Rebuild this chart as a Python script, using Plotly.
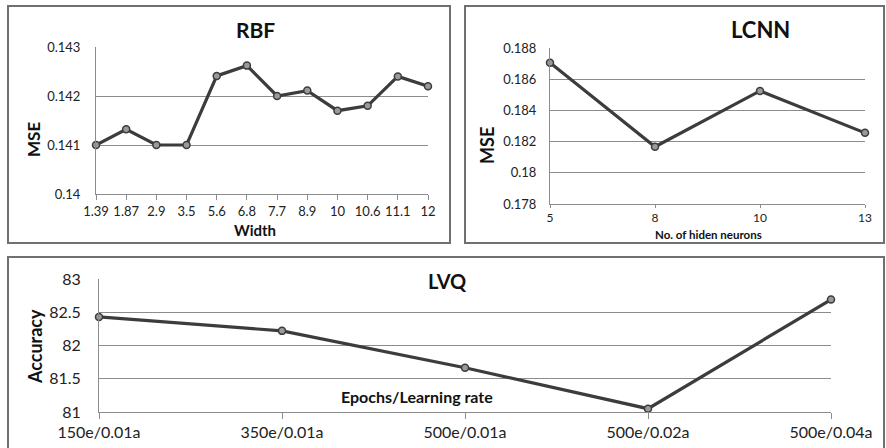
import plotly.graph_objects as go

W, H = 886, 448

# ---------------- data ----------------
rbf_width = ["1.39", "1.87", "2.9", "3.5", "5.6", "6.8", "7.7", "8.9", "10", "10.6", "11.1", "12"]
rbf_mse = [0.1410, 0.14132, 0.1410, 0.1410, 0.14241, 0.14262, 0.1420, 0.14211, 0.1417, 0.1418, 0.1424, 0.1422]
rbf_yticks = [0.14, 0.141, 0.142, 0.143]

lcnn_neurons = ["5", "8", "10", "13"]
lcnn_mse = [0.18706, 0.18167, 0.18525, 0.18256]
lcnn_yticks = [0.178, 0.18, 0.182, 0.184, 0.186, 0.188]

lvq_setting = ["150e/0.01a", "350e/0.01a", "500e/0.01a", "500e/0.02a", "500e/0.04a"]
lvq_acc = [82.43, 82.22, 81.665, 81.05, 82.69]
lvq_yticks = [81, 81.5, 82, 82.5, 83]

FONT = "Lato, 'Open Sans', sans-serif"
LINE_C = "#3c3c3c"
GRID_C = "#8c8c8c"


def px(x):
    return x / W


def py(y):
    return 1 - y / H


fig = go.Figure()

panels = [
    dict(xa="x", ya="y", cats=rbf_width, vals=rbf_mse,
         xd=[96, 428], yd=[194, 47], yr=[0.14, 0.143], yt=rbf_yticks, ytxt=["0.14", "0.141", "0.142", "0.143"],
         tfs=13, yfs=13, tl=5, ysd=12),
    dict(xa="x2", ya="y2", cats=lcnn_neurons, vals=lcnn_mse,
         xd=[550, 865], yd=[204, 48], yr=[0.178, 0.188], yt=lcnn_yticks,
         ytxt=["0.178", "0.18", "0.182", "0.184", "0.186", "0.188"], tfs=12, yfs=13, tl=3, ysd=10),
    dict(xa="x3", ya="y3", cats=lvq_setting, vals=lvq_acc,
         xd=[99, 831], yd=[412, 279], yr=[81, 83], yt=lvq_yticks,
         ytxt=["81", "81.5", "82", "82.5", "83"], tfs=16, yfs=16, tl=6, ysd=14),
]

for i, p in enumerate(panels):
    n = len(p["cats"])
    fig.add_trace(go.Scatter(
        x=list(range(n)), y=p["vals"], xaxis=p["xa"], yaxis=p["ya"],
        mode="lines+markers", cliponaxis=False,
        line=dict(color=LINE_C, width=3.2),
        marker=dict(symbol="circle", size=7, color="#9a9a9a", line=dict(color=LINE_C, width=1.5)),
        showlegend=False, hoverinfo="skip"))
    sfx = "" if i == 0 else str(i + 1)
    fig.layout["xaxis" + sfx] = dict(
        domain=[px(p["xd"][0]), px(p["xd"][1])], anchor="y" + sfx, automargin=False,
        range=[0, n - 1], tickmode="array", tickvals=list(range(n)), ticktext=p["cats"],
        showgrid=False, zeroline=False, showline=True, linecolor=GRID_C, linewidth=1,
        ticks="outside", ticklen=p["tl"], tickcolor=GRID_C,
        tickfont=dict(family=FONT, size=p["tfs"], color="#222"), fixedrange=True)
    fig.layout["yaxis" + sfx] = dict(
        domain=[py(p["yd"][0]), py(p["yd"][1])], anchor="x" + sfx, automargin=False,
        range=p["yr"], tickmode="array", tickvals=p["yt"], ticktext=p["ytxt"],
        showgrid=True, gridcolor=GRID_C, gridwidth=1, zeroline=False,
        showline=True, linecolor=GRID_C, linewidth=1, ticks="", ticklen=0,
        ticklabelstandoff=p["ysd"],
        tickfont=dict(family=FONT, size=p["yfs"], color="#222"), fixedrange=True)

# panel borders
borders = [(8, 6, 450, 243), (465, 6, 884, 243), (8, 257, 884, 470)]
for x0, y0, x1, y1 in borders:
    fig.add_shape(type="rect", xref="paper", yref="paper",
                  x0=px(x0), x1=px(x1), y0=py(y1), y1=py(y0),
                  line=dict(color="#707070", width=2), fillcolor="rgba(0,0,0,0)", layer="below")

anns = [
    ("RBF", 255, 30, 21),
    ("Width", 255, 230, 15),
    ("LCNN", 760, 30, 22),
    ("No. of hiden neurons", 708, 234, 11.5),
    ("LVQ", 447, 281, 20),
    ("Epochs/Learning rate", 417, 396, 16),
]
for txt, x, y, fs in anns:
    fig.add_annotation(text=f"<b>{txt}</b>", xref="paper", yref="paper",
                       x=px(x), y=py(y), showarrow=False, xanchor="center", yanchor="middle",
                       font=dict(family=FONT, size=fs, color="#111"))

for txt, x, y, fs in [("MSE", 33, 140, 17), ("MSE", 487, 146, 18), ("Accuracy", 35, 347, 18)]:
    fig.add_annotation(text=f"<b>{txt}</b>", xref="paper", yref="paper", x=px(x), y=py(y),
                       showarrow=False, textangle=-90, xanchor="center", yanchor="middle",
                       font=dict(family=FONT, size=fs, color="#111"))

fig.update_layout(width=W, height=H, margin=dict(l=0, r=0, t=0, b=0, pad=0, autoexpand=False),
                  paper_bgcolor="white", plot_bgcolor="white")

fig.write_html("out.html", config={"displayModeBar": False},
               post_script="document.body.style.margin='0px';document.body.style.overflow='hidden';")
